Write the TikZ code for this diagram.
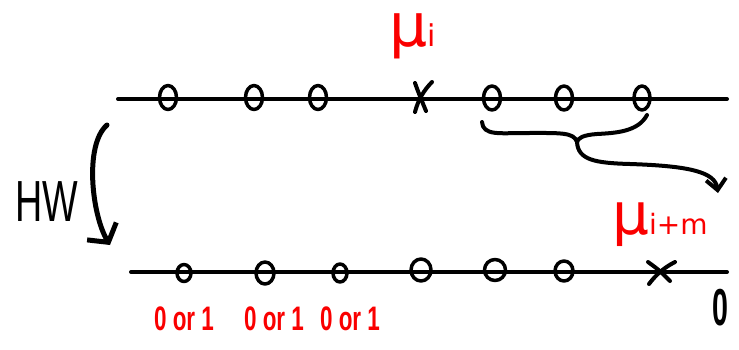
\documentclass[tikz,border=0pt]{standalone}
\usepackage{fontspec}
\setsansfont{Liberation Sans}
\newfontfamily\greekhand{DejaVu Sans}
\usetikzlibrary{arrows.meta,shapes.geometric}
\definecolor{inkred}{RGB}{250,0,0}
\begin{document}
\begin{tikzpicture}[x=1pt,y=-1pt,line cap=round,line join=round,
  ink/.style={line width=4pt},
  ring/.style 2 args={draw,ellipse,line width=3.5pt,inner sep=0pt,
    minimum width=#1,minimum height=#2},
  redlbl/.style={text=inkred,inner sep=0pt},
  blklbl/.style={text=black,inner sep=0pt},
  topcross/.pic={
    \draw[ink] (-5,-15) .. controls (-1,-4) .. (6,13);
    \draw[ink] (12,-16) .. controls (4,-8) and (-2,2) .. (-5,14);},
  botcross/.pic={
    \draw[ink] (-13,-10) .. controls (-2,-2) .. (9,9);
    \draw[ink] (14,-10) .. controls (2,-4) and (-6,4) .. (-12,12);}]
\useasboundingbox (0,0) rectangle (739,349);

% the two number lines
\coordinate (topL) at (118,99);
\coordinate (topR) at (727,99);
\coordinate (botL) at (131,272);
\coordinate (botR) at (727,272);
\draw[ink] (topL) -- (topR);
\draw[ink] (botL) -- (botR);

% marks on the upper line
\node[ring={17}{24}] (t1) at (168,97.5) {};
\node[ring={17}{24}] (t2) at (254,97.5) {};
\node[ring={17}{24}] (t3) at (318,97.5) {};
\pic (tx) at (420,98) {topcross};
\node[ring={17}{24}] (t5) at (492,98) {};
\node[ring={17}{24}] (t6) at (564,98) {};
\node[ring={16}{24}] (t7) at (642,98) {};

% marks on the lower line
\node[ring={14}{17}] (b1) at (184,273) {};
\node[ring={18}{22}] (b2) at (265,273) {};
\node[ring={14}{18}] (b3) at (340,273) {};
\node[ring={20}{22}] (b4) at (421,270) {};
\node[ring={21}{21}] (b5) at (495,270) {};
\node[ring={18}{20}] (b6) at (564,271) {};
\pic (bx) at (661,272) {botcross};

% labels
\node[redlbl] (mui) at (413,36)
  {\greekhand\fontsize{60}{60}\selectfont μ\fontsize{30}{30}\selectfont i};
\node[redlbl] (muim) at (660,225)
  {\greekhand\fontsize{58}{58}\selectfont μ\fontsize{28}{28}\selectfont i+m};
\node[redlbl] (or1) at (184,319)
  {\scalebox{0.66}[1]{\sffamily\bfseries\fontsize{34}{34}\selectfont 0 or 1}};
\node[redlbl] (or2) at (274,319)
  {\scalebox{0.66}[1]{\sffamily\bfseries\fontsize{34}{34}\selectfont 0 or 1}};
\node[redlbl] (or3) at (350,319)
  {\scalebox{0.66}[1]{\sffamily\bfseries\fontsize{34}{34}\selectfont 0 or 1}};
\node[blklbl] (hw) at (47,202)
  {\scalebox{0.65}[1]{\sffamily\fontsize{58}{58}\selectfont HW}};
\node[blklbl] (zero) at (720,308)
  {\scalebox{0.55}[1]{\sffamily\bfseries\fontsize{52}{52}\selectfont 0}};

% curved arrow from the upper line down to the lower one
\coordinate (hwtop) at (107,125);
\coordinate (hwtip) at (110,245);
\draw[line width=5pt,-{Straight Barb[length=13pt,width=34pt]}]
  (hwtop) .. controls (84,145) and (92,215) .. (hwtip);

% brace under the right-hand marks, with its arrow
\coordinate (brL) at (482,122);
\coordinate (brR) at (647,115);
\coordinate (cusp) at (577,142);
\coordinate (brTip) at (718,193);
\draw[ink] (brL) .. controls (483,136) and (500,133) .. (525,133)
  .. controls (560,133) and (574,132) .. (cusp);
\draw[ink] (brR) .. controls (638,132) and (615,133) .. (597,134)
  .. controls (583,135) and (578,138) .. (cusp);
\draw[ink,-{Straight Barb[length=11pt,width=20pt]}]
  (cusp) .. controls (578,160) and (595,163) .. (630,164)
  .. controls (690,166) and (715,172) .. (brTip);
\end{tikzpicture}
\end{document}
